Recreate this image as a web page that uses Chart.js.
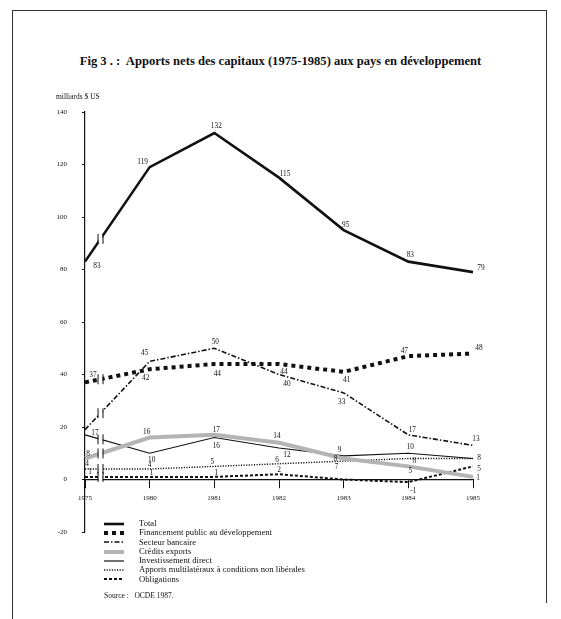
<!DOCTYPE html>
<html>
<head>
<meta charset="utf-8">
<script src="https://cdn.jsdelivr.net/npm/chart.js@4.4.0/dist/chart.umd.min.js"></script>
<style>
body { margin: 0; background: #fff; font-family: "Liberation Serif", serif; color: #111; }
#page { position: relative; width: 561px; height: 619px; overflow: hidden; }
#frame { position: absolute; left: 12px; top: 10px; width: 533px; height: 592px; border: 1px solid #333; border-bottom: none; }
#leftline { position: absolute; left: 12px; top: 10px; width: 1px; height: 620px; background: #333; }
#title { position: absolute; top: 54px; left: 0; width: 561px; text-align: center; font-weight: bold; font-size: 12.6px; }
#unit { position: absolute; left: 56px; top: 92px; font-size: 7.5px; color: #111; z-index: 2; white-space: nowrap; }
canvas { position: absolute; left: 0; top: 0; }
#legend { position: absolute; left: 103px; top: 519px; font-size: 8.6px; line-height: 9.3px; }
#legend .row { display: flex; align-items: center; height: 9.3px; }
#legend svg { width: 22px; height: 8px; margin-right: 14px; }
#source { position: absolute; left: 104px; top: 591px; font-size: 7.5px; }
</style>
</head>
<body>
<div id="page">
  <div id="frame"></div>
  <div id="leftline"></div>
  <div id="title">Fig 3 . :&nbsp; Apports nets des capitaux (1975-1985) aux pays en développement</div>
  <canvas id="chart" width="561" height="619"></canvas>
  <div id="unit" lang="fr">milliards $ US</div>
  <div id="legend"></div>
  <div id="source">Source :&nbsp;&nbsp; OCDE 1987.</div>
</div>
<script>
// Values (milliards $ US)
const years = ['1975', '1980', '1981', '1982', '1983', '1984', '1985'];
const total = [83, 119, 132, 115, 95, 83, 79];
const financementPublic = [37, 42, 44, 44, 41, 47, 48];
const secteurBancaire = [19, 45, 50, 40, 33, 17, 13];
const creditsExports = [8, 16, 17, 14, 8, 5, 1];
const investissementDirect = [17, 10, 16, 12, 9, 10, 8];
const apportsMultilateraux = [4, 4, 5, 6, 7, 8, 8];
const obligations = [1, 1, 1, 2, 0, -1, 5];
const yMin = -20, yMax = 140, yStep = 20;

// where each value label sits relative to its point (null = no label)
const totalLabels = [[12, 4], [-7, -5], [2, -7], [6, -4], [2, -5], [2, -7], [8, -4]];
const publicLabels = [[8, -7], [-4, 9], [3, 10], [5, 8], [3, 8], [-4, -5], [6, -5]];
const bancaireLabels = [null, [-5, -8], [1, -6], [8, 10], [-2, 9], [4, -5], [3, -6]];
const exportsLabels = [[3, -4], [-3, -5], [2, -5], [-2, -7], [-8, 1], [2, 5], [5, 1]];
const directLabels = [[10, -2], [2, 7], [2, 9], [8, 7], [-4, -6], [2, -6], [6, 0]];
const multiLabels = [[2, -5], [0, -4], [-2, -4], [-2, -4], [-7, 6], [6, 3], null];
const obligLabels = [[5, -5], [2, -4], [2, -4], [0, -4], null, [5, 9], [6, 3]];

const ctx = document.getElementById('chart').getContext('2d');

// value labels next to the points
const valueLabels = {
    id: 'valueLabels',
    afterDatasetsDraw(chart) {
        const c = chart.ctx;
        c.save();
        c.font = '7.3px "Liberation Serif"';
        c.fillStyle = '#111';
        c.textAlign = 'center';
        c.textBaseline = 'middle';
        chart.data.datasets.forEach((ds, i) => {
            const meta = chart.getDatasetMeta(i);
            meta.data.forEach((pt, j) => {
                const off = ds.labelOffsets[j];
                if (!off) return;
                c.fillText(String(ds.data[j]), pt.x + off[0], pt.y + off[1]);
            });
        });
        c.restore();
    }
};

// "//" break marks between 1975 and 1980
const breakMarks = {
    id: 'breakMarks',
    afterDatasetsDraw(chart) {
        const c = chart.ctx;
        c.save();
        chart.data.datasets.forEach((ds, i) => {
            const pts = chart.getDatasetMeta(i).data;
            const t = 0.24;
            const x = pts[0].x + (pts[1].x - pts[0].x) * t;
            const y = pts[0].y + (pts[1].y - pts[0].y) * t;
            c.fillStyle = '#fff';
            c.fillRect(x - 2, y - 4, 4, 8);
            c.strokeStyle = '#111';
            c.lineWidth = 1;
            [-2.5, 2.5].forEach(dx => {
                c.beginPath();
                c.moveTo(x + dx, y - 5);
                c.lineTo(x + dx, y + 5);
                c.stroke();
            });
        });
        c.restore();
    }
};

const chart = new Chart(ctx, {
    type: 'line',
    data: {
        labels: years,
        datasets: [
            { label: 'Total', data: total, borderColor: '#111', borderWidth: 2.6, borderDash: [], labelOffsets: totalLabels },
            { label: 'Financement public au développement', data: financementPublic, borderColor: '#111', borderWidth: 4, borderDash: [4, 4], labelOffsets: publicLabels },
            { label: 'Secteur bancaire', data: secteurBancaire, borderColor: '#111', borderWidth: 1.6, borderDash: [5, 2, 1.5, 2], labelOffsets: bancaireLabels },
            { label: 'Crédits exports', data: creditsExports, borderColor: '#b4b4b4', borderWidth: 4, borderDash: [], labelOffsets: exportsLabels },
            { label: 'Investissement direct', data: investissementDirect, borderColor: '#111', borderWidth: 1.2, borderDash: [], labelOffsets: directLabels },
            { label: 'Apports multilatéraux à conditions non libérales', data: apportsMultilateraux, borderColor: '#111', borderWidth: 1.4, borderDash: [1.2, 1.4], labelOffsets: multiLabels },
            { label: 'Obligations', data: obligations, borderColor: '#111', borderWidth: 2, borderDash: [3, 2], labelOffsets: obligLabels }
        ]
    },
    options: {
        responsive: false,
        animation: false,
        layout: { padding: { left: 55, right: 88, top: 112, bottom: 87 } },
        elements: { point: { radius: 0 }, line: { tension: 0 } },
        plugins: { legend: { display: false }, tooltip: { enabled: false } },
        scales: {
            x: {
                position: { y: 0 },
                offset: false,
                grid: { drawOnChartArea: false, tickLength: 8, color: '#111' },
                border: { color: '#111', width: 1.2 },
                ticks: { padding: 6, color: '#111', font: { family: 'Liberation Serif', size: 7 }, maxRotation: 0 }
            },
            y: {
                min: yMin, max: yMax,
                afterFit(scale) { scale.width = 30; },
                grid: { drawOnChartArea: false, tickLength: 3, color: '#111' },
                border: { color: '#111', width: 1.2 },
                ticks: { stepSize: yStep, padding: 15, color: '#111', font: { family: 'Liberation Serif', size: 7 } }
            }
        }
    },
    plugins: [valueLabels, breakMarks]
});

// legend list below the chart
const legend = document.getElementById('legend');
chart.data.datasets.forEach(ds => {
    const row = document.createElement('div');
    row.className = 'row';
    const dash = ds.borderDash.length ? `stroke-dasharray="${ds.borderDash.join(' ')}"` : '';
    row.innerHTML = `<svg viewBox="0 0 22 8"><line x1="1" y1="4" x2="21" y2="4" stroke="${ds.borderColor}" stroke-width="${ds.borderWidth}" ${dash}/></svg><span>${ds.label}</span>`;
    legend.appendChild(row);
});
</script>
</body>
</html>
